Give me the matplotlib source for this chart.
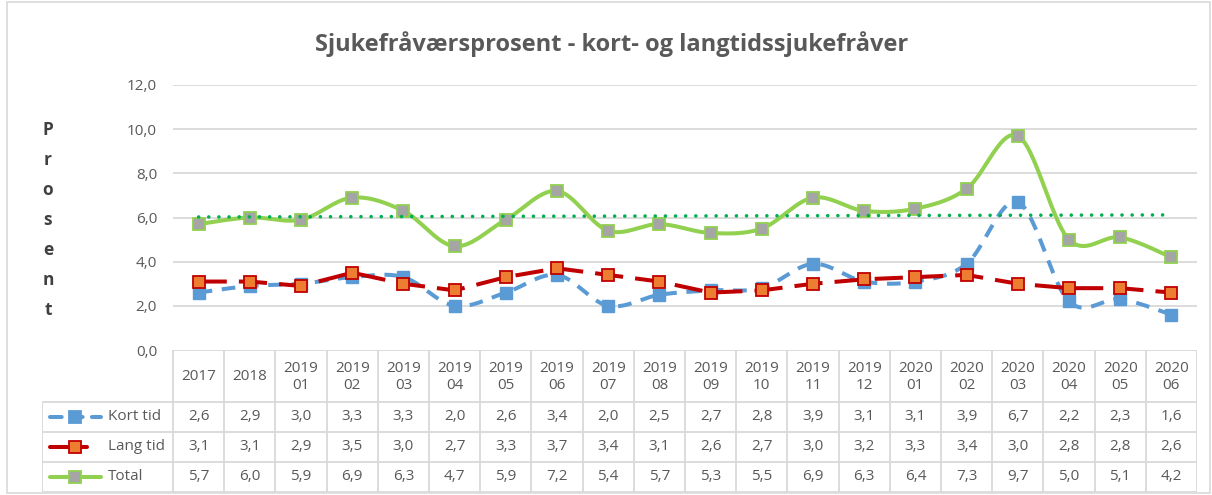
import numpy as np
import matplotlib.pyplot as plt
from matplotlib.patches import Rectangle
from matplotlib.lines import Line2D

# Data
periods = ["2017", "2018", "2019\n01", "2019\n02", "2019\n03", "2019\n04", "2019\n05",
           "2019\n06", "2019\n07", "2019\n08", "2019\n09", "2019\n10", "2019\n11",
           "2019\n12", "2020\n01", "2020\n02", "2020\n03", "2020\n04", "2020\n05", "2020\n06"]
kort_tid = [2.6, 2.9, 3.0, 3.3, 3.3, 2.0, 2.6, 3.4, 2.0, 2.5, 2.7, 2.8, 3.9, 3.1, 3.1, 3.9, 6.7, 2.2, 2.3, 1.6]
lang_tid = [3.1, 3.1, 2.9, 3.5, 3.0, 2.7, 3.3, 3.7, 3.4, 3.1, 2.6, 2.7, 3.0, 3.2, 3.3, 3.4, 3.0, 2.8, 2.8, 2.6]
total = [5.7, 6.0, 5.9, 6.9, 6.3, 4.7, 5.9, 7.2, 5.4, 5.7, 5.3, 5.5, 6.9, 6.3, 6.4, 7.3, 9.7, 5.0, 5.1, 4.2]
series_names = ["Kort tid", "Lang tid", "Total"]
y_ticks = [0, 2, 4, 6, 8, 10, 12]

W, H = 1212, 495
FONT = "Open Sans"
TXT = "#595959"
GRID = "#d9d9d9"

BLUE = "#5b9bd5"
RED = "#c00000"
ORANGE = "#ed7d31"
GREEN = "#92d050"
GRAY = "#a5a5a5"
TREND = "#00b050"


def smooth(x, y, n=30):
    # Excel-like smoothed line (Catmull-Rom via cubic Bezier)
    p = np.column_stack([x, y]).astype(float)
    ext = np.vstack([p[0], p, p[-1]])
    out = []
    t = np.linspace(0, 1, n)[:, None]
    for i in range(len(p) - 1):
        p0, p1, p2, p3 = ext[i], ext[i + 1], ext[i + 2], ext[i + 3]
        c1 = p1 + (p2 - p0) / 6
        c2 = p2 - (p3 - p1) / 6
        seg = (1 - t) ** 3 * p1 + 3 * (1 - t) ** 2 * t * c1 + 3 * (1 - t) * t ** 2 * c2 + t ** 3 * p2
        out.append(seg if i == 0 else seg[1:])
    out = np.vstack(out)
    return out[:, 0], out[:, 1]


def px(x0, y0, x1, y1):
    # pixel box (top-left origin) -> figure fraction
    return [x0 / W, 1 - y1 / H, (x1 - x0) / W, (y1 - y0) / H]


plt.rcParams["font.family"] = [FONT, "DejaVu Sans"]
fig = plt.figure(figsize=(W / 100, H / 100), dpi=100)

# outer chart border
fig.patches.append(Rectangle((7 / W, 2 / H), 1203 / W, 491 / H, transform=fig.transFigure,
                             fill=False, edgecolor=GRID, linewidth=1.2))

fig.text(0.505, 1 - 44 / H, "Sjukefråværsprosent - kort- og langtidssjukefråver",
         ha="center", va="center", fontsize=17, fontweight="bold", color="#595959")

# y label, stacked letters
for k, ch in enumerate("Prosent"):
    fig.text(48 / W, 1 - (130 + 30 * k) / H, ch, ha="center", va="center",
             fontsize=12.5, fontweight="bold", color="#404040")

# main plot
ax = fig.add_axes(px(173, 85, 1197, 350))
x = np.arange(len(periods))
ax.set_xlim(-0.5, len(periods) - 0.5)
ax.set_ylim(0, 12)
ax.set_yticks(y_ticks)
ax.set_yticklabels([f"{v:.1f}".replace(".", ",") for v in y_ticks], fontsize=11, color=TXT)
ax.tick_params(axis="y", length=0, pad=11.5)
ax.set_xticks([])
for s in ax.spines.values():
    s.set_visible(False)
for v in y_ticks[1:]:
    ax.axhline(v, color=GRID, linewidth=1.3, zorder=0)

lw = 2.9
sx, sy = smooth(x, kort_tid)
ax.plot(sx, sy, color=BLUE, linewidth=lw, dashes=(3.4, 2.4), zorder=2)
ax.plot(x, kort_tid, linestyle="none", marker="s", markersize=8, color=BLUE,
        markeredgecolor=BLUE, zorder=3)

ax.plot(x, lang_tid, color=RED, linewidth=lw, dashes=(7.0, 3.0), zorder=4)
ax.plot(x, lang_tid, linestyle="none", marker="s", markersize=8, markerfacecolor=ORANGE,
        markeredgecolor=RED, markeredgewidth=1.3, zorder=5)

sx, sy = smooth(x, total)
ax.plot(sx, sy, color=GREEN, linewidth=lw, zorder=6)
ax.plot(x, total, linestyle="none", marker="s", markersize=8, markerfacecolor=GRAY,
        markeredgecolor=GREEN, markeredgewidth=1.3, zorder=7)

# linear trend line of total
coef = np.polyfit(x, total, 1)
ax.plot(x, np.polyval(coef, x), color=TREND, linewidth=2.6, dashes=(0.01, 2.8),
        dash_capstyle="round", zorder=8)

# data table
colw = (1197 - 173) / len(periods)
legw = (173 - 42) / colw
tx = fig.add_axes(px(42, 350, 1197, 492))
tx.set_xlim(-0.5 - legw, len(periods) - 0.5)
tx.set_ylim(142, 0)
tx.axis("off")
left = -0.5 - legw
right = len(periods) - 0.5
row_edges = [0, 52, 82, 112, 142]
lk = dict(color=GRID, linewidth=1.3, solid_capstyle="butt")
tx.plot([-0.5, right], [0, 0], **lk)
for r in row_edges[1:]:
    tx.plot([left, right], [r, r], **lk)
tx.plot([left, left], [52, 142], **lk)
for i in range(len(periods) + 1):
    tx.plot([i - 0.5, i - 0.5], [0, 142], **lk)

for i, lab in enumerate(periods):
    tx.text(i, 27, lab, ha="center", va="center", fontsize=11, color=TXT, linespacing=1.2)

rows = [kort_tid, lang_tid, total]
for r, vals in enumerate(rows):
    yc = (row_edges[r + 1] + row_edges[r + 2]) / 2
    for i, v in enumerate(vals):
        tx.text(i, yc, f"{v:.1f}".replace(".", ","), ha="center", va="center",
                fontsize=11, color=TXT)


# legend keys inside the table
def pxu(p):
    return -0.5 + (p - 173) / colw


styles = [
    dict(color=BLUE, dashes=(2.9, 2.3), mfc=BLUE, mec=BLUE),
    dict(color=RED, dashes=None, mfc=ORANGE, mec=RED),
    dict(color=GREEN, dashes=None, mfc=GRAY, mec=GREEN),
]
for r, (name, st) in enumerate(zip(series_names, styles)):
    yc = (row_edges[r + 1] + row_edges[r + 2]) / 2
    xs = [pxu(50), pxu(101 if r != 1 else 87)]
    line = Line2D(xs, [yc, yc], color=st["color"], linewidth=lw, solid_capstyle="round",
                  dash_capstyle="round")
    if st["dashes"]:
        line.set_dashes(st["dashes"])
    tx.add_line(line)
    tx.plot([pxu(75)], [yc], marker="s", markersize=8, markerfacecolor=st["mfc"],
            markeredgecolor=st["mec"], markeredgewidth=1.3)
    tx.text(pxu(108), yc, name, ha="left", va="center", fontsize=11, color=TXT)

fig.savefig("out.png", dpi=100)
